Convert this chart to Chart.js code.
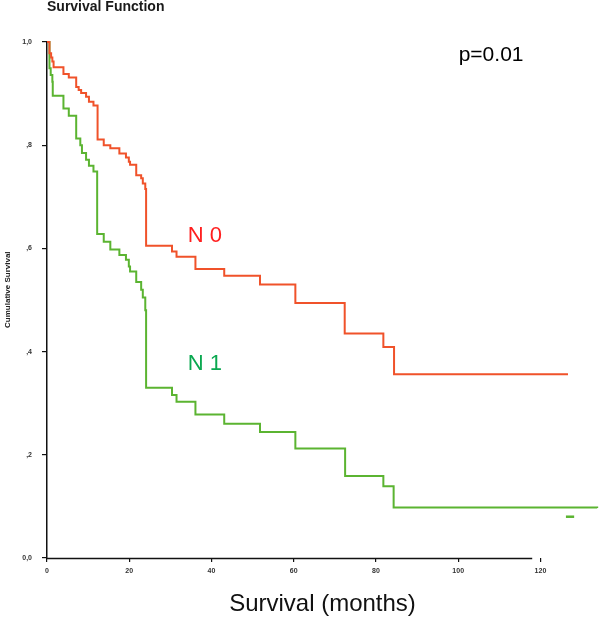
<!DOCTYPE html>
<html>
<head>
<meta charset="utf-8">
<script src="https://cdn.jsdelivr.net/npm/chart.js@4"></script>
<style>
  html, body { margin: 0; padding: 0; background: #fff; }
  #wrap { width: 600px; height: 620px; }
</style>
</head>
<body>
<div id="wrap"><canvas id="kmChart" width="600" height="620"></canvas></div>
<script>
// Kaplan-Meier steps (months, cumulative survival)
var n0Months = [0, 0.6, 1.0, 1.3, 1.6, 4.0, 5.3, 7.1, 7.7, 8.3, 9.5, 10.2, 11.3, 12.3, 13.8, 15.4, 17.6, 19.2, 19.9, 20.2, 21.7, 22.9, 23.3, 23.9, 24.1, 30.4, 31.5, 36.1, 43.1, 51.8, 60.4, 72.4, 81.8, 84.4, 126.7];
var n0Survival = [1.0, 0.978, 0.970, 0.962, 0.951, 0.938, 0.931, 0.913, 0.907, 0.901, 0.894, 0.884, 0.877, 0.811, 0.800, 0.794, 0.784, 0.776, 0.768, 0.762, 0.742, 0.736, 0.726, 0.715, 0.605, 0.594, 0.584, 0.560, 0.547, 0.530, 0.494, 0.435, 0.409, 0.356, 0.356];

var n1Months = [0, 0.6, 0.9, 1.3, 1.4, 4.0, 5.3, 7.1, 8.1, 8.5, 9.5, 10.2, 11.3, 12.2, 13.8, 15.4, 17.6, 19.2, 19.9, 20.2, 21.7, 22.9, 23.3, 23.9, 24.1, 30.4, 31.5, 36.1, 43.1, 51.8, 60.4, 72.5, 81.8, 84.3, 133.8];
var n1Survival = [1.0, 0.949, 0.936, 0.923, 0.896, 0.871, 0.857, 0.813, 0.800, 0.785, 0.772, 0.760, 0.749, 0.628, 0.613, 0.598, 0.587, 0.578, 0.565, 0.555, 0.535, 0.520, 0.505, 0.480, 0.330, 0.316, 0.303, 0.278, 0.260, 0.244, 0.212, 0.159, 0.139, 0.098, 0.097];

// small censor mark under the N 1 tail
var n1MarkMonths = [126.2, 128.2];
var n1MarkSurvival = [0.080, 0.080];

var xTickValues = [0, 20, 40, 60, 80, 100, 120];
var yTickValues = [0, 0.2, 0.4, 0.6, 0.8, 1.0];
var yTickLabels = ["0,0", ",2", ",4", ",6", ",8", "1,0"];

function toPoints(xs, ys) {
  return xs.map(function (x, i) { return { x: x, y: ys[i] }; });
}

var red = "#f0522a";
var green = "#5bb431";

// texts and the shortened x axis line
var extras = {
  id: "extras",
  afterDraw: function (chart) {
    var c = chart.ctx;
    var xs = chart.scales.x;
    var ys = chart.scales.y;
    var area = chart.chartArea;
    c.save();

    c.strokeStyle = "#111";
    c.lineWidth = 1.5;
    c.beginPath();
    c.moveTo(area.left, area.bottom + 0.5);
    c.lineTo(xs.getPixelForValue(118), area.bottom + 0.5);
    c.stroke();

    c.textBaseline = "middle";
    c.fillStyle = "#1a1a1a";
    c.font = "bold 14px 'Liberation Sans', Arial, sans-serif";
    c.textAlign = "left";
    c.fillText("Survival Function", area.left, 7);

    // y axis title, a little above the middle as in the original
    c.save();
    c.translate(8, ys.getPixelForValue(0.52));
    c.rotate(-Math.PI / 2);
    c.textAlign = "center";
    c.fillStyle = "#222";
    c.font = "bold 8px 'Liberation Sans', Arial, sans-serif";
    c.fillText("Cumulative Survival", 0, 0);
    c.restore();

    c.textAlign = "center";
    c.fillStyle = "#000";
    c.font = "21px 'Liberation Sans', Arial, sans-serif";
    c.fillText("p=0.01", xs.getPixelForValue(108), ys.getPixelForValue(0.975));

    c.font = "22px 'Liberation Sans', Arial, sans-serif";
    c.fillStyle = "#ff1f1f";
    c.fillText("N 0", xs.getPixelForValue(38.4), ys.getPixelForValue(0.624));
    c.fillStyle = "#0aa850";
    c.fillText("N 1", xs.getPixelForValue(38.4), ys.getPixelForValue(0.376));
    c.restore();
  }
};

var ctx = document.getElementById("kmChart").getContext("2d");
new Chart(ctx, {
  type: "line",
  data: {
    datasets: [
      {
        label: "N 0",
        data: toPoints(n0Months, n0Survival),
        borderColor: red,
        borderWidth: 2,
        stepped: "before",
        pointRadius: 0,
        clip: false,
      },
      {
        label: "N 1",
        data: toPoints(n1Months, n1Survival),
        borderColor: green,
        borderWidth: 2,
        stepped: "before",
        pointRadius: 0,
        clip: false,
      },
      {
        label: "censored",
        data: toPoints(n1MarkMonths, n1MarkSurvival),
        borderColor: green,
        borderWidth: 2.5,
        pointRadius: 0,
        clip: false,
      },
    ],
  },
  options: {
    responsive: false,
    animation: false,
    layout: { padding: { top: 42, right: 2, bottom: 0, left: 0 } },
    plugins: {
      legend: { display: false },
      tooltip: { enabled: false },
    },
    scales: {
      x: {
        type: "linear",
        min: 0,
        max: 134,
        afterBuildTicks: function (scale) {
          scale.ticks = xTickValues.map(function (v) { return { value: v }; });
        },
        afterFit: function (scale) { scale.height = 62; },
        grid: { drawOnChartArea: false, tickLength: 4, tickColor: "#111", lineWidth: 1.2 },
        border: { display: false },
        ticks: {
          padding: 5,
          maxRotation: 0,
          color: "#333",
          font: { size: 7, weight: "bold", family: "'Liberation Sans', Arial" },
        },
        title: {
          display: true,
          text: "Survival (months)",
          color: "#111",
          padding: { top: 0, bottom: 1 },
          font: { size: 24, family: "'Liberation Sans', Arial" },
        },
      },
      y: {
        min: 0,
        max: 1,
        afterBuildTicks: function (scale) {
          scale.ticks = yTickValues.map(function (v) { return { value: v }; });
        },
        afterFit: function (scale) { scale.width = 47; },
        grid: { drawOnChartArea: false, tickLength: 5, tickColor: "#111", lineWidth: 1.2 },
        border: { color: "#111", width: 1.5 },
        ticks: {
          padding: 10,
          color: "#333",
          font: { size: 7, weight: "bold", family: "'Liberation Sans', Arial" },
          callback: function (v, i) { return yTickLabels[i]; },
        },
      },
    },
  },
  plugins: [extras],
});
</script>
</body>
</html>
